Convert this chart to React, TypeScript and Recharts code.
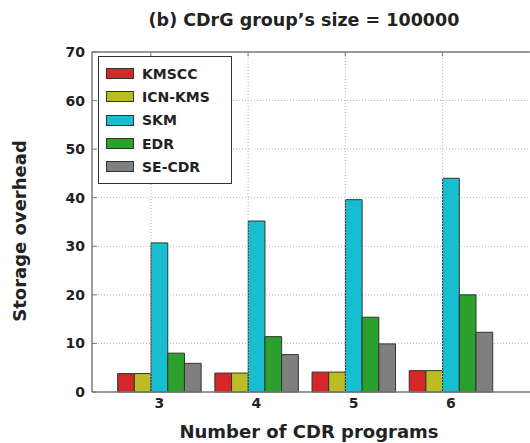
import React from "react";
import {
  BarChart,
  Bar,
  XAxis,
  YAxis,
  CartesianGrid,
  ReferenceLine,
} from "recharts";

const programs = [3, 4, 5, 6];
const kmscc = [3.8, 3.9, 4.1, 4.4];
const icnKms = [3.8, 3.9, 4.1, 4.4];
const skm = [30.7, 35.2, 39.6, 44.0];
const edr = [8.0, 11.4, 15.4, 20.0];
const seCdr = [5.9, 7.7, 9.9, 12.3];
const yTicks = [0, 10, 20, 30, 40, 50, 60, 70];
const gridX = [2.914, 3.914, 4.914, 5.914];

const series = [
  { key: "kmscc", name: "KMSCC", color: "#d62728" },
  { key: "icnKms", name: "ICN-KMS", color: "#bcbd22" },
  { key: "skm", name: "SKM", color: "#17becf" },
  { key: "edr", name: "EDR", color: "#2ca02c" },
  { key: "seCdr", name: "SE-CDR", color: "#7f7f7f" },
];

const data = programs.map((p, i) => ({
  x: p,
  kmscc: kmscc[i],
  icnKms: icnKms[i],
  skm: skm[i],
  edr: edr[i],
  seCdr: seCdr[i],
}));

const FONT = "'DejaVu Sans', Verdana, sans-serif";
const AXIS = "#7a7a7a";
const GRID = "#b8b8b8";

function YTick(props: any) {
  const { x, y, payload } = props;
  return (
    <g>
      <text
        x={x}
        y={y}
        textAnchor="end"
        dominantBaseline="central"
        fontFamily={FONT}
        fontWeight="bold"
        fontSize={14}
        fill="#222"
      >
        {payload.value}
      </text>
      <line x1={x + 7} x2={x + 12} y1={y} y2={y} stroke={AXIS} strokeWidth={1} />
    </g>
  );
}

// legend drawn as a plain box so it does not take room from the plot
function LegendBox() {
  return (
    <div
      style={{
        position: "absolute",
        left: 98,
        top: 56,
        width: 132,
        height: 121,
        border: "1px solid #333",
        background: "#fff",
        paddingTop: 5,
      }}
    >
      {series.map((s) => (
        <div
          key={s.key}
          style={{ display: "flex", alignItems: "center", height: 23.3 }}
        >
          <span
            style={{
              display: "inline-block",
              width: 26,
              height: 9,
              marginLeft: 7,
              marginRight: 8,
              background: s.color,
              border: "1px solid #333",
            }}
          />
          <span
            style={{
              fontFamily: FONT,
              fontWeight: "bold",
              fontSize: 14,
              color: "#222",
            }}
          >
            {s.name}
          </span>
        </div>
      ))}
    </div>
  );
}

export default function App() {
  return (
    <div
      style={{
        position: "absolute",
        left: 0,
        top: 0,
        width: 530,
        height: 443,
        overflow: "hidden",
        background: "#fff",
      }}
    >
      <BarChart
        width={548}
        height={443}
        data={data}
        margin={{ top: 52, right: 0, left: 0, bottom: 0 }}
        barGap={0}
      >
        <CartesianGrid
          vertical={false}
          stroke={GRID}
          strokeDasharray="1 2"
        />
        {gridX.map((g) => (
          <ReferenceLine
            key={"v" + g}
            x={g}
            stroke={GRID}
            strokeDasharray="1 2"
          />
        ))}
        {gridX.map((g) => (
          <ReferenceLine
            key={"t" + g}
            segment={[
              { x: g, y: 70 },
              { x: g, y: 69.1 },
            ]}
            stroke={AXIS}
          />
        ))}
        <ReferenceLine y={70} stroke={AXIS} strokeWidth={1.5} />
        <XAxis
          dataKey="x"
          type="number"
          domain={[2.308, 7]}
          ticks={programs}
          allowDataOverflow
          height={51}
          tickSize={0}
          tickMargin={6}
          axisLine={{ stroke: AXIS, strokeWidth: 1.5 }}
          tickLine={false}
          tick={{ fontFamily: FONT, fontWeight: "bold", fontSize: 14, fill: "#222" }}
        />
        <YAxis
          type="number"
          domain={[0, 70]}
          ticks={yTicks}
          width={92}
          tickSize={0}
          tickMargin={7}
          tickLine={false}
          axisLine={{ stroke: AXIS, strokeWidth: 1.5 }}
          tick={<YTick />}
        />
        {series.map((s) => (
          <Bar
            key={s.key}
            dataKey={s.key}
            name={s.name}
            fill={s.color}
            stroke="#333"
            strokeWidth={1}
            barSize={16.7}
            isAnimationActive={false}
          />
        ))}
      </BarChart>
      <LegendBox />
      <svg
        width={530}
        height={443}
        style={{ position: "absolute", left: 0, top: 0, pointerEvents: "none" }}
      >
        <text
          x={304}
          y={20}
          textAnchor="middle"
          dominantBaseline="central"
          fontFamily={FONT}
          fontWeight="bold"
          fontSize={17.5}
          fill="#222"
        >
          (b) CDrG group’s size = 100000
        </text>
        <text
          x={309}
          y={431}
          textAnchor="middle"
          dominantBaseline="central"
          fontFamily={FONT}
          fontWeight="bold"
          fontSize={18}
          fill="#222"
        >
          Number of CDR programs
        </text>
        <text
          x={19}
          y={231}
          transform="rotate(-90 19 231)"
          textAnchor="middle"
          dominantBaseline="central"
          fontFamily={FONT}
          fontWeight="bold"
          fontSize={18}
          fill="#222"
        >
          Storage overhead
        </text>
      </svg>
    </div>
  );
}
